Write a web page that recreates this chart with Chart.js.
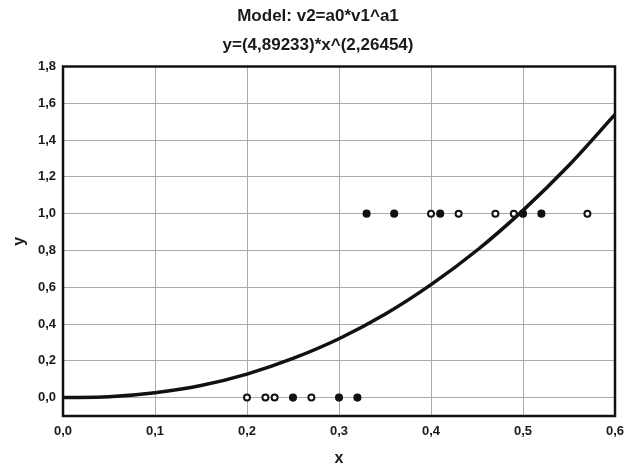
<!DOCTYPE html>
<html lang="en">
<head>
  <meta charset="UTF-8">
  <title>Model: v2=a0*v1^a1</title>
  <script src="https://cdn.jsdelivr.net/npm/chart.js@4"></script>
  <style>
    html, body { margin: 0; padding: 0; background: #fff; }
    #wrap { width: 626px; height: 468px; }
  </style>
</head>
<body>
  <div id="wrap"><canvas id="chart" width="626" height="468"></canvas></div>
  <script>
    // fitted curve
    const curveX = [0, 0.05, 0.1, 0.15, 0.2, 0.25, 0.3, 0.35, 0.4, 0.45, 0.5, 0.55, 0.6];
    const curveY = [0, 0.005, 0.027, 0.066, 0.128, 0.213, 0.32, 0.453, 0.614, 0.801, 1.018, 1.263, 1.539];

    // observations (hollow markers)
    const openX = [0.20, 0.22, 0.23, 0.27, 0.40, 0.43, 0.47, 0.49, 0.57];
    const openY = [0, 0, 0, 0, 1, 1, 1, 1, 1];
    // observations (filled markers)
    const fillX = [0.25, 0.30, 0.32, 0.33, 0.36, 0.41, 0.50, 0.52];
    const fillY = [0, 0, 0, 1, 1, 1, 1, 1];

    const xTicks = [0, 0.1, 0.2, 0.3, 0.4, 0.5, 0.6];
    const yTicks = [0, 0.2, 0.4, 0.6, 0.8, 1.0, 1.2, 1.4, 1.6, 1.8];

    const toPts = (xs, ys) => xs.map((x, i) => ({ x: x, y: ys[i] }));
    const fmt = (v) => v.toFixed(1).replace('.', ',');
    const FONT = '"Liberation Sans", Arial, sans-serif';

    // closed black box round the plot area
    const frame = {
      id: 'frame',
      afterDatasetsDraw(chart) {
        const a = chart.chartArea;
        const ctx = chart.ctx;
        ctx.save();
        ctx.strokeStyle = '#111';
        ctx.lineWidth = 2.5;
        ctx.strokeRect(a.left, a.top, a.right - a.left, a.bottom - a.top);
        ctx.restore();
      }
    };

    new Chart(document.getElementById('chart'), {
      type: 'scatter',
      data: {
        datasets: [
          {
            type: 'line', data: toPts(curveX, curveY),
            borderColor: '#111', borderWidth: 3.5, pointRadius: 0,
            cubicInterpolationMode: 'monotone', fill: false, order: 2
          },
          {
            data: toPts(openX, openY), pointRadius: 3, borderWidth: 2,
            borderColor: '#111', backgroundColor: '#fff', order: 1
          },
          {
            data: toPts(fillX, fillY), pointRadius: 3.3, borderWidth: 1.5,
            borderColor: '#111', backgroundColor: '#111', order: 1
          }
        ]
      },
      options: {
        responsive: false,
        animation: false,
        layout: { padding: { left: 10, right: 0, top: 1, bottom: 0 } },
        plugins: {
          legend: { display: false },
          tooltip: { enabled: false },
          title: {
            display: true,
            text: ['Model: v2=a0*v1^a1', 'y=(4,89233)*x^(2,26454)'],
            color: '#1a1a1a',
            font: { family: FONT, size: 17, weight: 'bold', lineHeight: 1.75 },
            padding: { top: 0, bottom: 6 }
          }
        },
        scales: {
          x: {
            type: 'linear', min: 0, max: 0.6,
            afterBuildTicks: (s) => { s.ticks = xTicks.map(v => ({ value: v })); },
            afterFit: (s) => { s.height = 52; s.paddingRight = 11; },
            grid: { color: '#aaa', lineWidth: 1, drawTicks: false },
            border: { display: false },
            ticks: {
              callback: (v) => fmt(v), color: '#1a1a1a', padding: 8,
              font: { family: FONT, size: 13, weight: 'bold' }, maxRotation: 0
            },
            title: {
              display: true, text: 'x', color: '#1a1a1a', padding: { top: 8, bottom: 0 },
              font: { family: FONT, size: 16, weight: 'bold' }
            }
          },
          y: {
            type: 'linear', min: -0.1, max: 1.8,
            afterBuildTicks: (s) => { s.ticks = yTicks.map(v => ({ value: v })); },
            afterFit: (s) => { s.width = 53; },
            grid: { color: '#aaa', lineWidth: 1, drawTicks: false },
            border: { display: false },
            ticks: {
              callback: (v) => fmt(v), color: '#1a1a1a', padding: 7,
              font: { family: FONT, size: 13, weight: 'bold' }
            },
            title: {
              display: true, text: 'y', color: '#1a1a1a', padding: { top: 0, bottom: 4 },
              font: { family: FONT, size: 16, weight: 'bold' }
            }
          }
        }
      },
      plugins: [frame]
    });
  </script>
</body>
</html>
